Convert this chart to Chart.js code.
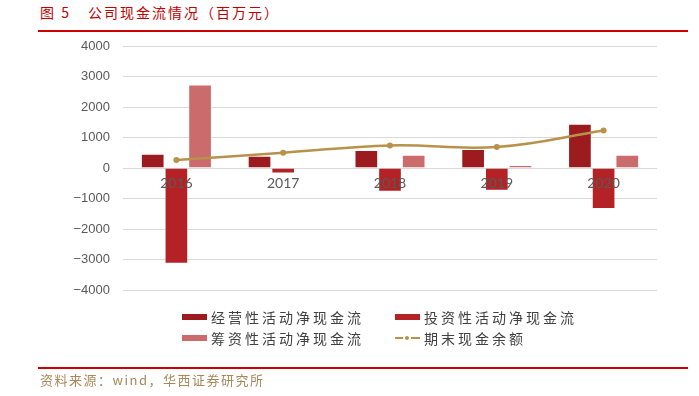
<!DOCTYPE html>
<html>
<head>
<meta charset="utf-8">
<script src="https://cdn.jsdelivr.net/npm/chart.js@4"></script>
<style>
  html, body { margin: 0; padding: 0; background: #fff; }
  #wrap { position: relative; width: 699px; height: 396px; overflow: hidden; font-family: "Noto Sans CJK SC", sans-serif; }
  #cv { position: absolute; left: 0; top: 0; }
  .title { position: absolute; left: 40px; top: 2px; font-size: 14px; color: #c00000; letter-spacing: 2px; white-space: nowrap; }
  .title .num { display: inline-block; width: 48px; }
  .rule { position: absolute; left: 38px; width: 650px; height: 2px; background: #cc0000; }
  .src { position: absolute; left: 40px; top: 370px; font-size: 13px; color: #a8875a; letter-spacing: 1.5px; white-space: nowrap; }
  .leg { position: absolute; font-size: 14px; color: #404040; letter-spacing: 3px; white-space: nowrap; line-height: 20px; }
  .leg .box { position: absolute; left: 0; top: 7px; width: 25px; height: 6px; }
  .leg .txt { position: absolute; left: 29px; top: 0; }
  .leg .ln { position: absolute; top: 9px; height: 2px; background: #b8924a; }
  .leg .dot { position: absolute; left: 10px; top: 8px; width: 4px; height: 4px; border-radius: 2px; background: #b8924a; }
</style>
</head>
<body>
<div id="wrap">
  <div class="title"><span class="num">图 5</span>公司现金流情况（百万元）</div>
  <div class="rule" style="top:30px"></div>
  <canvas id="cv" width="699" height="396"></canvas>
  <div id="legend"></div>
  <div class="rule" style="top:367px"></div>
  <div class="src">资料来源：wind，华西证券研究所</div>
</div>
<script>
// categories and series (百万元)
const years = ["2016", "2017", "2018", "2019", "2020"];
const operatingCF = [470, 400, 590, 620, 1450];
const investingCF = [-3140, -180, -780, -745, -1345];
const financingCF = [2740, 0, 435, 100, 435];
const cashBalance = [262, 500, 740, 690, 1230];
const yTicks = [4000, 3000, 2000, 1000, 0, -1000, -2000, -3000, -4000];

const seriesNames = ["经营性活动净现金流", "投资性活动净现金流", "筹资性活动净现金流", "期末现金余额"];
const colors = ["#9b1b1e", "#b52226", "#cc6b6b", "#b8924a"];

//legend built as html so it sits in two columns like the original
const legendPos = [[182, 307], [395, 307], [182, 328], [395, 328]];
let legendHtml = "";
seriesNames.forEach((name, i) => {
  let mark = `<span class="box" style="background:${colors[i]}"></span>`;
  if (i === 3) {
    mark = `<span class="ln" style="left:0;width:8px"></span><span class="dot"></span><span class="ln" style="left:16px;width:9px"></span>`;
  }
  legendHtml += `<div class="leg" style="left:${legendPos[i][0]}px;top:${legendPos[i][1]}px">${mark}<span class="txt">${name}</span></div>`;
});
document.getElementById("legend").innerHTML = legendHtml;

const barStyle = {
  borderWidth: 1,
  borderColor: "rgba(255,255,255,0.45)",
  barPercentage: 1,
  categoryPercentage: 0.665,
  order: 2,
};

let ctx = document.getElementById("cv").getContext("2d");
let cashChart = new Chart(ctx, {
  type: "bar",
  data: {
    labels: years,
    datasets: [
      { label: seriesNames[0], data: operatingCF, backgroundColor: colors[0], ...barStyle },
      { label: seriesNames[1], data: investingCF, backgroundColor: colors[1], ...barStyle },
      { label: seriesNames[2], data: financingCF, backgroundColor: colors[2], ...barStyle },
      {
        type: "line",
        label: seriesNames[3],
        data: cashBalance,
        borderColor: colors[3],
        backgroundColor: colors[3],
        borderWidth: 2.5,
        pointRadius: 3,
        pointBorderWidth: 0,
        tension: 0.4,
        order: 1,
      },
    ],
  },
  options: {
    responsive: false,
    animation: false,
    layout: {
      padding: { top: 46, right: 42, bottom: 106, left: 0 },
    },
    plugins: {
      legend: { display: false },
      tooltip: { enabled: false },
    },
    scales: {
      x: {
        position: { y: 0 },
        afterFit: (scale) => { scale.height = 0; },
        grid: { display: false, drawTicks: false },
        border: { display: false },
        ticks: {
          z: 1, // year labels sit on top of the bars
          padding: 7,
          color: "#595959",
          font: { family: "Lato", size: 14 },
        },
      },
      y: {
        min: -4000,
        max: 4000,
        afterFit: (scale) => { scale.width = 123; },
        afterBuildTicks: (scale) => {
          scale.ticks = yTicks.map((v) => ({ value: v }));
        },
        grid: { color: "#d9d9d9", lineWidth: 1, drawTicks: false },
        border: { display: false },
        ticks: {
          padding: 13,
          color: "#595959",
          font: { family: "Liberation Sans", size: 13 },
          callback: (v) => String(v).replace("-", "\u2212"),
        },
      },
    },
  },
});
</script>
</body>
</html>
